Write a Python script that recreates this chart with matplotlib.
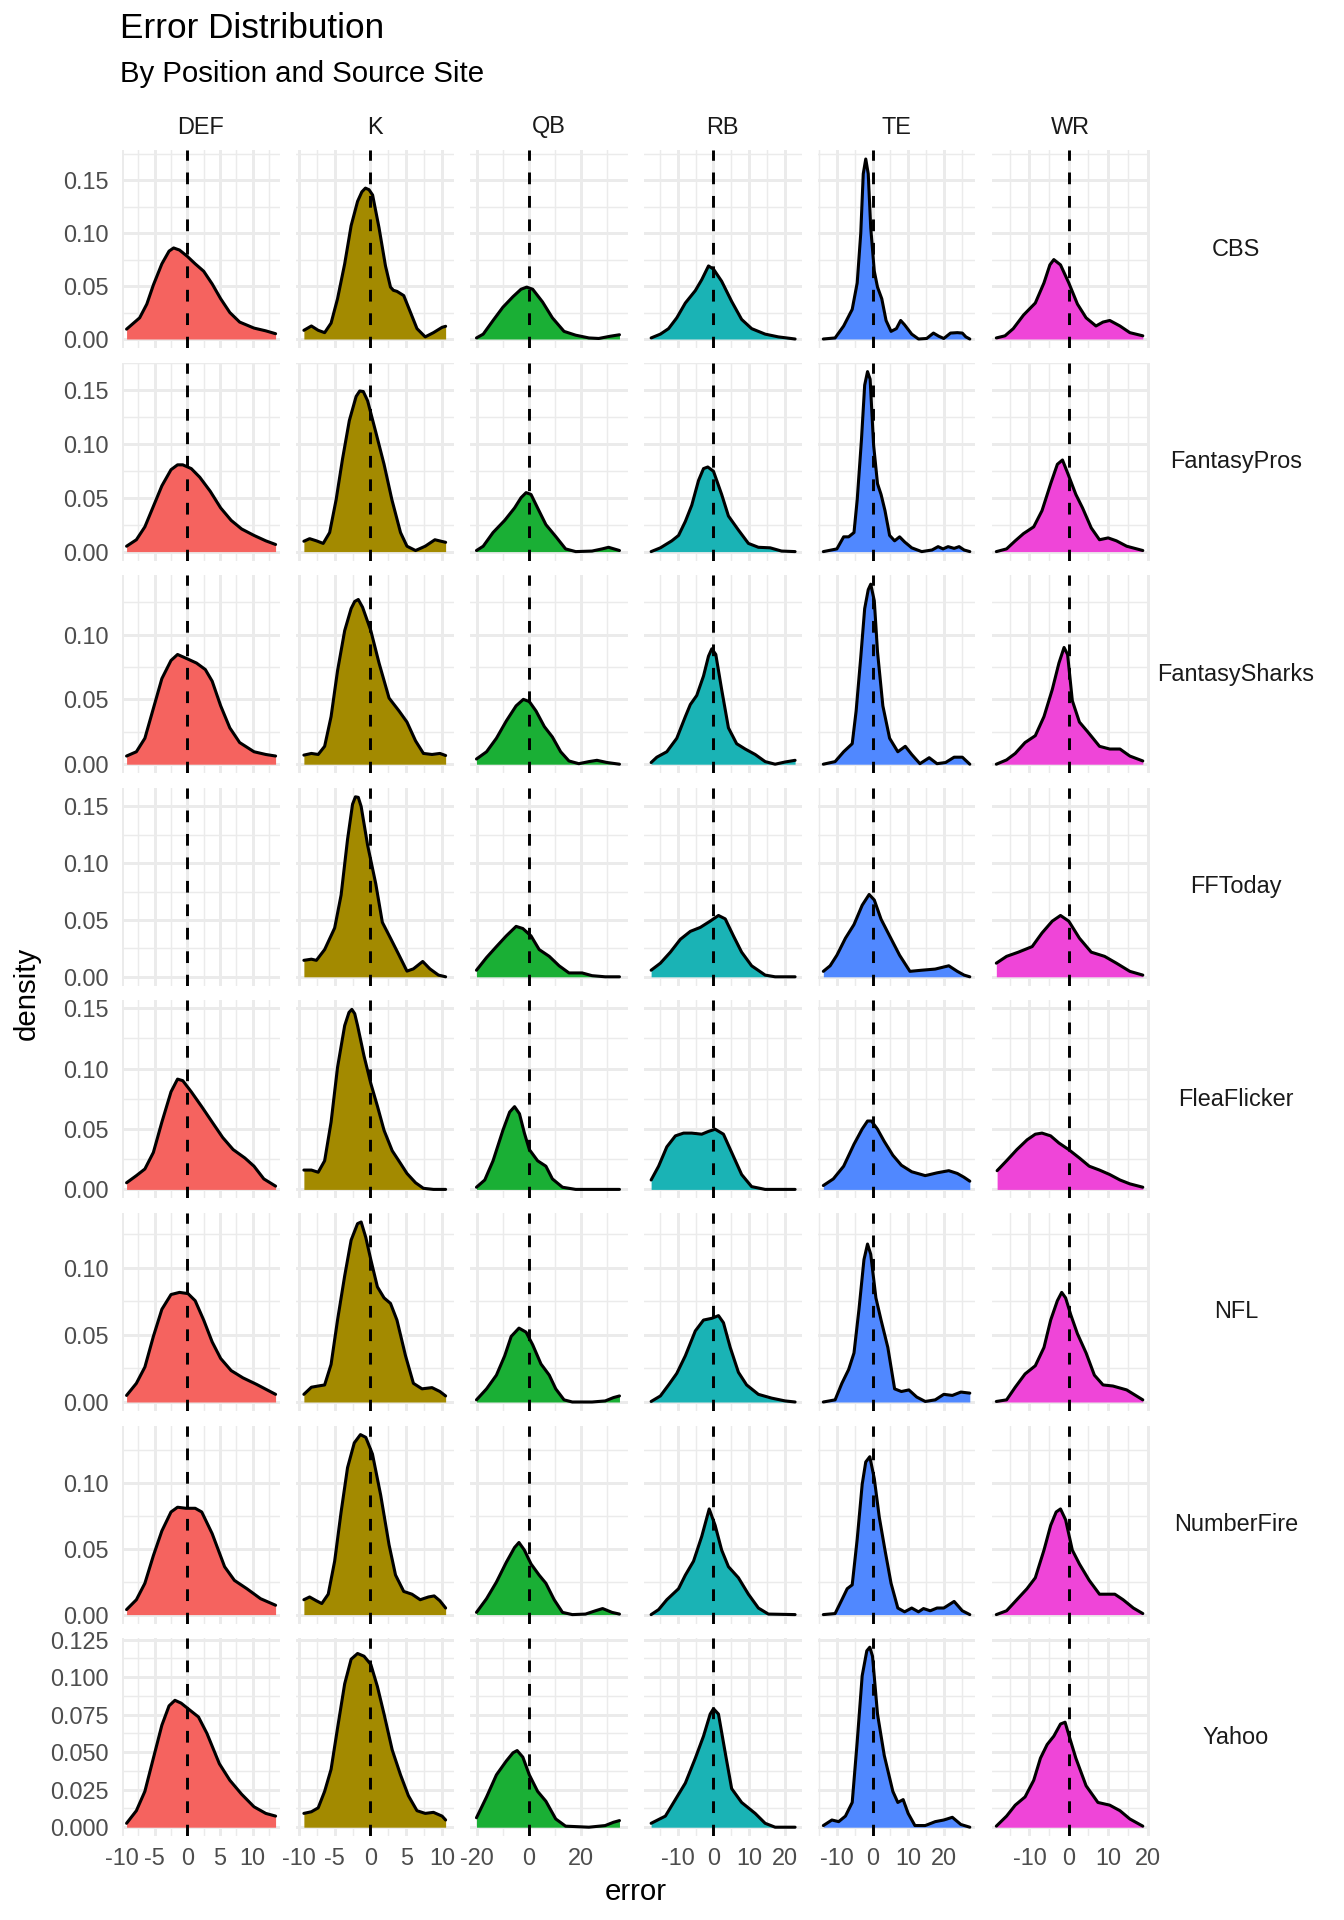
import matplotlib

matplotlib.use("Agg")
import matplotlib.pyplot as plt
from matplotlib.ticker import MultipleLocator, FormatStrFormatter

# facet grid: rows = source site, columns = position
SITES = ["CBS", "FantasyPros", "FantasySharks", "FFToday", "FleaFlicker",
         "NFL", "NumberFire", "Yahoo"]
POSITIONS = ["DEF", "K", "QB", "RB", "TE", "WR"]
FILLS = ["#F5635F", "#A38A00", "#1AAF35", "#1AB3B5", "#5088FF", "#EF45D8"]

# density curves, (error, density) per site
DEF = {
    "CBS": [(-9.3, .0093), (-7.3, .020), (-6.2, .033), (-5.2, .051), (-3.9, .071), (-2.8, .083),
            (-2.1, .086), (-1.2, .084), (0, .078), (1.2, .071), (2.5, .064), (3.8, .052),
            (5.1, .038), (6.5, .025), (8.0, .016), (10.2, .0103), (12.0, .0077), (13.5, .005)],
    "FantasyPros": [(-9.3, .005), (-7.8, .011), (-6.5, .023), (-5.2, .042), (-3.9, .061), (-2.5, .076),
                    (-1.5, .0805), (-0.7, .0805), (0.6, .077), (1.9, .069), (3.5, .056), (5.1, .0405),
                    (6.7, .029), (8.3, .021), (10.2, .015), (12.0, .010), (13.5, .0066)],
    "FantasySharks": [(-9.3, .0063), (-7.8, .0096), (-6.5, .020), (-5.2, .043), (-3.9, .066), (-2.5, .080),
                      (-1.5, .0846), (-0.2, .0817), (1.4, .078), (2.75, .073), (3.8, .064), (5.1, .045),
                      (6.5, .028), (8.0, .0167), (10.2, .0096), (12.0, .0075), (13.5, .0063)],
    "FFToday": [],
    "FleaFlicker": [(-9.3, .0055), (-7.8, .0114), (-6.5, .0169), (-5.2, .0306), (-3.9, .0557), (-2.5, .0808),
                    (-1.5, .0913), (-0.7, .090), (0.6, .0808), (2.2, .0685), (3.8, .0557), (5.4, .043),
                    (7.0, .033), (8.8, .026), (10.2, .0192), (11.7, .0087), (13.5, .0027)],
    "NFL": [(-9.3, .0049), (-7.8, .0139), (-6.5, .026), (-5.2, .0488), (-3.9, .069), (-2.5, .080),
            (-1.2, .0816), (0.1, .0807), (1.2, .0754), (2.5, .061), (3.8, .0447), (5.1, .0324),
            (6.7, .0234), (8.5, .018), (10.6, .0131), (13.5, .0057)],
    "NumberFire": [(-9.3, .0038), (-7.8, .0113), (-6.5, .0238), (-5.2, .0448), (-3.9, .0636), (-2.5, .078),
                   (-1.5, .0816), (-0.2, .0808), (1.2, .0808), (2.2, .078), (3.8, .0615), (5.7, .0364),
                   (7.2, .026), (9.1, .0197), (11.2, .0121), (13.5, .0071)],
    "Yahoo": [(-9.3, .0026), (-7.8, .011), (-6.5, .0239), (-5.2, .046), (-3.9, .068), (-2.8, .0809),
              (-1.9, .0846), (-0.95, .0827), (0.4, .078), (1.7, .0735), (3.0, .0625), (4.9, .0423),
              (6.5, .0313), (8.3, .022), (10.2, .0136), (12.0, .0092), (13.5, .0074)],
}

K = {
    "CBS": [(-9.3, .0082), (-8.25, .0123), (-7.3, .0082), (-6.4, .006), (-5.5, .015), (-4.6, .038),
            (-3.6, .071), (-2.7, .107), (-1.8, .130), (-1.2, .139), (-0.7, .1425), (-0.2, .141),
            (0.3, .136), (1.2, .105), (2.1, .069), (2.8, .049), (3.2, .046), (3.7, .045),
            (4.65, .041), (5.6, .025), (6.5, .0098), (7.65, .002), (8.8, .006), (10.0, .011),
            (10.5, .012)],
    "FantasyPros": [(-9.3, .0096), (-8.5, .012), (-7.55, .010), (-6.6, .0076), (-5.7, .0177), (-4.8, .048),
                    (-3.9, .086), (-2.95, .1216), (-2.0, .144), (-1.5, .149), (-1.0, .1485), (-0.4, .140),
                    (0.74, .111), (1.9, .081), (3.0, .048), (4.2, .0177), (5.1, .005), (6.3, .001),
                    (7.65, .005), (9.0, .011), (10.5, .0086)],
    "FantasySharks": [(-9.3, .007), (-8.25, .0083), (-7.3, .0075), (-6.4, .0138), (-5.5, .0367), (-4.6, .072),
                      (-3.6, .103), (-2.7, .120), (-2.2, .1255), (-1.7, .127), (-1.1, .121), (0.05, .103),
                      (1.2, .078), (2.6, .051), (4.0, .041), (5.1, .0325), (6.3, .018), (7.4, .0083),
                      (8.6, .0075), (9.7, .0083), (10.5, .0067)],
    "FFToday": [(-9.3, .0145), (-8.25, .0155), (-7.55, .0145), (-6.4, .024), (-5.0, .043), (-4.1, .072),
                (-3.2, .121), (-2.5, .152), (-2.1, .1585), (-1.7, .158), (-1.3, .150), (-0.4, .116),
                (0.74, .082), (1.66, .048), (2.8, .034), (4.0, .019), (5.1, .005), (6.0, .007),
                (7.3, .0135), (8.3, .007), (9.5, .0015), (10.5, 0)],
    "FleaFlicker": [(-9.3, .016), (-8.25, .016), (-7.3, .0142), (-6.4, .0237), (-5.5, .0557), (-4.6, .101),
                    (-3.6, .1356), (-3.0, .1465), (-2.6, .149), (-2.2, .1455), (-1.8, .1356), (-0.9, .1105),
                    (0.05, .0877), (0.97, .069), (1.9, .0489), (3.04, .032), (4.2, .0215), (5.1, .0132),
                    (6.3, .0055), (7.4, .0009), (8.8, 0), (10.5, 0)],
    "NFL": [(-9.3, .0057), (-8.25, .011), (-7.3, .0119), (-6.4, .0127), (-5.5, .028), (-4.6, .061),
            (-3.6, .0939), (-2.7, .1205), (-1.8, .1328), (-1.3, .134), (-0.65, .1225), (0.05, .106),
            (0.97, .0857), (1.9, .0775), (2.8, .0734), (3.7, .061), (4.9, .0344), (6.0, .0139),
            (7.2, .0098), (8.6, .0107), (9.7, .0078), (10.5, .0045)],
    "NumberFire": [(-9.3, .0113), (-8.5, .0134), (-7.55, .0105), (-6.8, .0084), (-5.9, .0155), (-5.0, .0406),
                   (-4.1, .078), (-3.2, .1117), (-2.26, .1305), (-1.4, .1368), (-0.65, .1347), (0.28, .122),
                   (1.43, .0908), (2.6, .053), (3.5, .0301), (4.65, .0176), (5.8, .0155), (6.95, .0113),
                   (8.1, .0134), (8.9, .0142), (9.7, .0105), (10.5, .005)],
    "Yahoo": [(-9.3, .0092), (-8.25, .0103), (-7.3, .0129), (-6.4, .0239), (-5.5, .0386), (-4.6, .066),
              (-3.6, .0956), (-2.7, .112), (-1.8, .1158), (-0.9, .114), (0.05, .1085), (0.97, .0938),
              (1.9, .0754), (3.04, .0515), (4.2, .0349), (5.3, .021), (6.5, .011), (7.65, .0092),
              (8.8, .0099), (10.0, .0074), (10.5, .0048)],
}

QB = {
    "CBS": [(-20.3, .001), (-17.7, .0046), (-13.9, .0175), (-10.1, .030), (-6.2, .040), (-3.1, .047),
            (-0.9, .049), (1.4, .047), (5.2, .035), (9.0, .020), (13.5, .0072), (18.0, .0036),
            (23.1, .001), (26.9, .0005), (31.3, .0026), (34.9, .004)],
    "FantasyPros": [(-20.3, .001), (-17.7, .005), (-13.9, .0177), (-9.4, .029), (-5.6, .0405), (-3.1, .050),
                    (-1.15, .0547), (0.76, .053), (3.3, .0405), (6.5, .025), (10.3, .014), (14.1, .0025),
                    (18.0, 0), (24.3, .0005), (28.2, .0025), (30.7, .004), (34.9, .001)],
    "FantasySharks": [(-20.3, .004), (-16.4, .0096), (-12.6, .020), (-8.8, .0333), (-5.0, .045), (-2.2, .050),
                      (0.1, .0483), (2.7, .041), (5.9, .029), (9.0, .021), (12.2, .0096), (15.4, .0025),
                      (19.2, .0004), (23.1, .002), (26.2, .003), (30.1, .0013), (34.9, 0)],
    "FFToday": [(-20.3, .0058), (-16.4, .017), (-12.6, .0266), (-8.8, .036), (-5.0, .0444), (-2.4, .0425),
                (0.76, .036), (3.9, .024), (7.8, .018), (11.6, .0097), (15.4, .0034), (20.5, .0034),
                (24.3, .001), (29.4, 0), (34.9, 0)],
    "FleaFlicker": [(-20.3, .0018), (-17.1, .0078), (-13.9, .0237), (-10.1, .0489), (-7.5, .064), (-5.6, .0685),
                    (-3.7, .0626), (-1.8, .0466), (0.1, .033), (3.3, .0237), (6.5, .0192), (9.0, .0087),
                    (12.9, .0018), (18.0, 0), (34.9, 0)],
    "NFL": [(-20.3, .0016), (-16.4, .0098), (-12.6, .020), (-9.4, .0344), (-6.9, .0488), (-3.9, .055),
            (-1.15, .052), (1.4, .0426), (4.6, .0283), (7.8, .020), (10.3, .0098), (13.5, .0016),
            (16.7, 0), (24.3, 0), (29.4, .0008), (32.6, .0033), (34.9, .0045)],
    "NumberFire": [(-20.3, .0017), (-16.4, .0121), (-12.6, .0247), (-8.8, .0397), (-5.6, .051), (-3.9, .0548),
                   (-1.8, .049), (0.76, .0385), (3.9, .030), (6.5, .0238), (9.7, .0113), (12.9, .0017),
                   (16.7, 0), (21.8, .0004), (25.6, .0029), (28.4, .0046), (32.0, .0017), (34.9, .0004)],
    "Yahoo": [(-20.3, .0063), (-16.4, .0202), (-12.6, .0349), (-8.8, .0441), (-6.2, .0496), (-4.6, .0511),
              (-2.4, .0467), (0.1, .0349), (3.3, .0239), (6.5, .0173), (10.3, .0055), (14.1, .0007),
              (23.1, 0), (29.4, .0011), (32.6, .0033), (34.9, .0044)],
}

RB = {
    "CBS": [(-17.5, .001), (-14.9, .0046), (-12.6, .0098), (-10.3, .020), (-7.9, .034), (-5.1, .0457),
            (-3.3, .056), (-1.4, .069), (0, .066), (2.3, .0545), (5.1, .0355), (7.9, .0185),
            (10.7, .0098), (14.5, .0046), (18.2, .002), (22.9, 0)],
    "FantasyPros": [(-17.5, 0), (-14.9, .0035), (-11.7, .010), (-9.8, .015), (-7.9, .028), (-6.1, .043),
                    (-4.2, .066), (-2.8, .077), (-1.6, .0785), (0, .0745), (2.3, .053), (4.2, .033),
                    (7.0, .020), (9.8, .0076), (12.6, .004), (15.9, .0035), (19.1, .0005), (22.9, 0)],
    "FantasySharks": [(-17.5, .0013), (-15.9, .0054), (-13.1, .0096), (-10.3, .020), (-7.9, .0367),
                      (-6.5, .046), (-4.7, .053), (-2.8, .068), (-1.4, .0833), (-0.47, .089), (0.65, .0846),
                      (2.3, .0575), (4.2, .028), (6.5, .0158), (8.9, .0117), (11.7, .0075), (14.5, .002),
                      (17.3, 0), (20.1, .0017), (22.9, .003)],
    "FFToday": [(-17.5, .0058), (-14.9, .012), (-12.1, .0217), (-9.3, .033), (-6.5, .040), (-3.7, .0435),
                (-0.93, .049), (1.4, .054), (3.3, .051), (5.6, .036), (7.9, .0217), (10.7, .0097),
                (14.5, .0015), (17.3, 0), (22.9, 0)],
    "FleaFlicker": [(-17.5, .0078), (-15.4, .0192), (-13.1, .0352), (-10.7, .0443), (-8.4, .0466),
                    (-6.1, .0466), (-3.3, .0457), (-1.4, .048), (0.47, .0498), (2.8, .0457), (5.1, .0306),
                    (7.9, .0123), (10.7, .0023), (14.5, 0), (22.9, 0)],
    "NFL": [(-17.5, .0004), (-14.9, .0045), (-12.6, .0127), (-10.3, .0213), (-7.9, .0344), (-5.1, .0529),
            (-2.8, .061), (-0.47, .0623), (1.4, .0643), (2.8, .059), (4.7, .0406), (7.0, .0221),
            (9.3, .0127), (12.6, .0057), (16.3, .0029), (20.1, .0008), (22.9, 0)],
    "NumberFire": [(-17.5, 0), (-15.4, .0038), (-13.1, .0113), (-9.8, .0197), (-7.9, .030), (-5.6, .0406),
                   (-3.3, .0594), (-1.2, .0803), (0.47, .0678), (2.3, .049), (4.2, .0364), (7.0, .028),
                   (9.8, .0155), (12.6, .005), (15.4, .0004), (22.9, 0)],
    "Yahoo": [(-17.5, .0026), (-13.5, .0074), (-10.7, .0184), (-7.9, .0294), (-5.1, .046), (-2.8, .0607),
              (-0.93, .0754), (0, .079), (1.4, .0754), (3.3, .0496), (5.1, .0257), (7.9, .0165),
              (11.7, .0092), (14.5, .0026), (17.3, 0), (22.9, 0)],
}

TE = {
    "CBS": [(-13.8, 0), (-10.5, .001), (-8.1, .0123), (-5.7, .028), (-4.3, .053), (-3.3, .100),
            (-2.6, .156), (-1.9, .170), (-1.2, .156), (-0.5, .105), (0.5, .064), (1.4, .049),
            (2.6, .038), (3.8, .0175), (5.2, .0072), (6.7, .0098), (7.9, .0175), (9.0, .0134),
            (11.0, .0046), (12.9, 0), (15.2, .0005), (17.1, .0056), (18.6, .0026), (20.0, .0005),
            (21.9, .0056), (23.8, .006), (25.2, .0056), (26.2, .002), (27.3, 0)],
    "FantasyPros": [(-13.8, 0), (-10.0, .0025), (-8.1, .0137), (-6.7, .0137), (-5.2, .0177), (-4.3, .048),
                    (-3.1, .104), (-2.2, .1545), (-1.4, .167), (-0.67, .160), (0.3, .099), (1.4, .063),
                    (2.4, .053), (3.5, .038), (4.8, .015), (6.2, .010), (7.6, .0137), (9.0, .009),
                    (11.0, .0035), (13.8, 0), (16.7, .0015), (18.4, .0046), (19.8, .0025), (21.2, .0046),
                    (22.9, .003), (24.3, .0046), (25.7, .0015), (27.3, 0)],
    "FantasySharks": [(-13.8, 0), (-10.5, .002), (-8.1, .0096), (-5.7, .0158), (-4.6, .041), (-3.3, .0825),
                      (-2.2, .120), (-1.2, .1346), (-0.5, .1388), (0.5, .126), (1.4, .0867), (2.9, .045),
                      (4.8, .020), (7.1, .0096), (9.2, .0138), (11.0, .0075), (13.3, .0004), (15.9, .005),
                      (18.1, .0004), (20.5, .0013), (22.9, .0054), (25.2, .0054), (27.3, 0)],
    "FFToday": [(-13.8, .0048), (-11.9, .0097), (-10.0, .019), (-7.6, .034), (-5.2, .046), (-2.9, .063),
                (-0.95, .0725), (0.5, .0676), (2.4, .0507), (4.8, .036), (7.6, .019), (10.5, .0048),
                (13.8, .0058), (17.6, .0068), (21.4, .0097), (23.8, .0048), (25.7, .0015), (27.3, 0)],
    "FleaFlicker": [(-13.8, .0032), (-11.0, .0087), (-8.1, .0192), (-5.2, .0374), (-2.9, .050), (-1.4, .0566),
                    (-0.3, .0566), (1.4, .0498), (3.3, .0397), (5.7, .0283), (8.1, .020), (11.0, .0146),
                    (14.8, .0114), (18.1, .0137), (21.4, .0155), (23.8, .0132), (25.7, .010), (27.3, .0068)],
    "NFL": [(-13.8, 0), (-10.5, .0016), (-8.6, .0139), (-6.7, .0242), (-5.2, .0365), (-3.8, .069),
            (-2.4, .106), (-1.4, .1176), (-0.5, .110), (0.95, .0775), (2.4, .061), (4.3, .0406),
            (6.2, .0098), (8.1, .0078), (10.2, .009), (12.4, .0037), (14.8, .0004), (17.6, .0016),
            (20.0, .0057), (22.4, .0049), (24.8, .0074), (27.3, .0066)],
    "NumberFire": [(-13.8, 0), (-10.5, .0008), (-8.6, .0113), (-7.1, .0197), (-5.7, .0226), (-4.3, .0573),
                   (-2.9, .099), (-1.9, .116), (-0.76, .120), (0.5, .1033), (1.9, .074), (3.5, .049),
                   (5.2, .0238), (7.1, .005), (9.0, .0021), (11.0, .005), (12.9, .0021), (14.3, .0046),
                   (16.2, .0029), (18.1, .005), (20.0, .005), (22.9, .010), (25.2, .0029), (27.3, 0)],
    "Yahoo": [(-13.8, .0011), (-11.4, .0048), (-9.5, .0037), (-7.6, .0074), (-5.7, .0165), (-4.3, .057),
              (-2.9, .101), (-1.6, .1176), (-0.76, .120), (0, .114), (1.4, .0754), (3.3, .0478),
              (5.7, .0239), (7.1, .0165), (8.6, .0184), (10.0, .0092), (11.9, .0011), (14.8, .0011),
              (17.6, .0037), (20.0, .0048), (22.4, .0066), (24.8, .0018), (27.3, 0)],
}

WR = {
    "CBS": [(-18.4, .001), (-16.2, .003), (-14.1, .0098), (-11.5, .0226), (-8.5, .034), (-6.3, .053),
            (-4.8, .070), (-3.8, .075), (-2.1, .070), (0, .053), (2.2, .033), (4.4, .020),
            (6.9, .0123), (8.7, .016), (10.4, .0175), (13.0, .0123), (15.5, .006), (18.8, .003)],
    "FantasyPros": [(-18.4, 0), (-15.8, .0025), (-13.6, .010), (-11.5, .0167), (-8.9, .023), (-6.8, .038),
                    (-4.6, .063), (-2.9, .081), (-1.6, .085), (-0.3, .073), (1.8, .053), (3.5, .0405),
                    (5.7, .022), (7.8, .011), (10.0, .0127), (12.1, .010), (14.7, .005), (18.8, .001)],
    "FantasySharks": [(-18.4, 0), (-15.8, .0033), (-13.6, .0083), (-11.1, .0167), (-8.5, .022), (-6.3, .0367),
                      (-4.2, .0575), (-2.5, .078), (-1.2, .090), (-0.3, .0846), (0.9, .049), (2.7, .0325),
                      (4.8, .025), (7.8, .0138), (10.4, .0117), (13.0, .0117), (15.5, .0063), (18.8, .0025)],
    "FFToday": [(-18.4, .012), (-15.8, .018), (-12.8, .0217), (-9.3, .0266), (-6.8, .0386), (-4.2, .049),
                (-2.1, .054), (0, .049), (2.7, .034), (5.7, .0217), (9.1, .018), (12.1, .012),
                (15.5, .0048), (18.8, .0015)],
    "FleaFlicker": [(-18.2, .0155), (-15.8, .0237), (-13.2, .0329), (-10.6, .041), (-8.5, .0457), (-6.8, .0466),
                    (-4.6, .0443), (-2.5, .0384), (0, .0329), (2.7, .026), (5.2, .0192), (7.8, .016),
                    (10.4, .0123), (13.0, .0078), (15.5, .0046), (18.8, .0018)],
    "NFL": [(-18.4, .0004), (-15.8, .0016), (-13.6, .011), (-11.1, .0209), (-8.5, .027), (-6.3, .0406),
            (-4.6, .061), (-2.9, .0754), (-1.8, .0816), (-0.8, .0775), (0.5, .065), (2.2, .0508),
            (4.4, .0365), (6.5, .020), (8.7, .0127), (11.2, .0119), (14.7, .009), (18.8, .0016)],
    "NumberFire": [(-18.4, 0), (-15.8, .0029), (-13.2, .0113), (-10.6, .0197), (-8.5, .028), (-6.3, .049),
                   (-4.6, .0678), (-3.2, .078), (-2.1, .0803), (-0.8, .072), (0.9, .049), (2.7, .0385),
                   (5.2, .026), (7.8, .0155), (10.0, .0155), (11.7, .0155), (13.8, .0113), (16.4, .005),
                   (18.8, .0008)],
    "Yahoo": [(-18.4, .0007), (-15.8, .0074), (-13.6, .0147), (-11.1, .0202), (-8.9, .0313), (-7.2, .046),
              (-5.5, .0551), (-3.8, .0607), (-2.1, .0688), (-0.94, .070), (0.1, .0607), (1.8, .046),
              (4.4, .0276), (7.4, .0165), (10.4, .0147), (13.0, .011), (15.5, .0055), (18.8, .0007)],
}

CURVES = {"DEF": DEF, "K": K, "QB": QB, "RB": RB, "TE": TE, "WR": WR}
X_STEP = {"DEF": 5, "K": 5, "QB": 20, "RB": 10, "TE": 10, "WR": 10}
# x limits per column (free scales)
X_LIMS = {"DEF": (-10.0, 14.1), "K": (-10.4, 11.6), "QB": (-22.8, 38.0),
          "RB": (-19.5, 24.7), "TE": (-15.3, 28.9), "WR": (-19.5, 20.5)}
Y_STEP = {s: 0.05 for s in SITES}
Y_STEP["Yahoo"] = 0.025

plt.rcParams["font.family"] = ["Liberation Sans", "DejaVu Sans"]
plt.rcParams["axes.unicode_minus"] = False
W, H = 1344, 1920
fig = plt.figure(figsize=(W / 192, H / 192), dpi=192)

# panel geometry in pixels
L0, T0, PW, PH = 122, 150, 157.5, 198
DX, DY = 174, 212.6
GRID = "#EBEBEB"
TICK_COL = "#4D4D4D"

# free y per row (ggplot 5% expansion)
ylims = {}
for site in SITES:
    top = max(p[1] for pos in POSITIONS for p in CURVES[pos][site])
    ylims[site] = (-0.05 * top, 1.05 * top)

for j, site in enumerate(SITES):
    for i, pos in enumerate(POSITIONS):
        left = L0 + i * DX
        top = T0 + j * DY
        ax = fig.add_axes([left / W, 1 - (top + PH) / H, PW / W, PH / H])
        ax.set_xlim(*X_LIMS[pos])
        ax.set_ylim(*ylims[site])
        ax.xaxis.set_major_locator(MultipleLocator(X_STEP[pos]))
        ax.xaxis.set_minor_locator(MultipleLocator(X_STEP[pos] / 2))
        ax.yaxis.set_major_locator(MultipleLocator(Y_STEP[site]))
        ax.yaxis.set_minor_locator(MultipleLocator(Y_STEP[site] / 2))
        fmt = "%.3f" if site == "Yahoo" else "%.2f"
        ax.yaxis.set_major_formatter(FormatStrFormatter(fmt))
        ax.xaxis.set_major_formatter(FormatStrFormatter("%d"))
        ax.grid(which="major", color=GRID, lw=1.1)
        ax.grid(which="minor", color=GRID, lw=0.55)
        ax.set_axisbelow(True)
        for sp in ax.spines.values():
            sp.set_visible(False)
        ax.tick_params(which="both", length=0, labelsize=8.8, labelcolor=TICK_COL)
        ax.tick_params(axis="y", pad=5)
        ax.tick_params(axis="x", pad=4)
        if i > 0:
            ax.tick_params(axis="y", labelleft=False)
        if j < len(SITES) - 1:
            ax.tick_params(axis="x", labelbottom=False)

        pts = CURVES[pos][site]
        if pts:
            xs = [p[0] for p in pts]
            ys = [p[1] for p in pts]
            ax.fill_between(xs, ys, 0, color=FILLS[i], lw=0, zorder=2)
            ax.plot(xs, ys, color="black", lw=1.15, solid_joinstyle="round",
                    solid_capstyle="round", zorder=3)
        ax.axvline(0, color="black", lw=1.1, ls=(0, (4, 4)), zorder=4)

        if j == 0:
            fig.text((left + PW / 2) / W, 1 - 127 / H, pos, ha="center", va="center",
                     fontsize=8.8, color="#1A1A1A")
        if i == len(POSITIONS) - 1:
            fig.text(1236 / W, 1 - (top + PH / 2) / H, site, ha="center", va="center",
                     fontsize=8.8, color="#1A1A1A")

fig.text(120 / W, 1 - 28 / H, "Error Distribution", fontsize=13.2, va="center")
fig.text(120 / W, 1 - 74 / H, "By Position and Source Site", fontsize=11, va="center")
fig.text(27 / W, 1 - 993 / H, "density", rotation=90, fontsize=11, ha="center", va="center")
fig.text(636 / W, 1 - 1892 / H, "error", fontsize=11, ha="center", va="center")

fig.savefig("out.png", dpi=192, facecolor="white")
